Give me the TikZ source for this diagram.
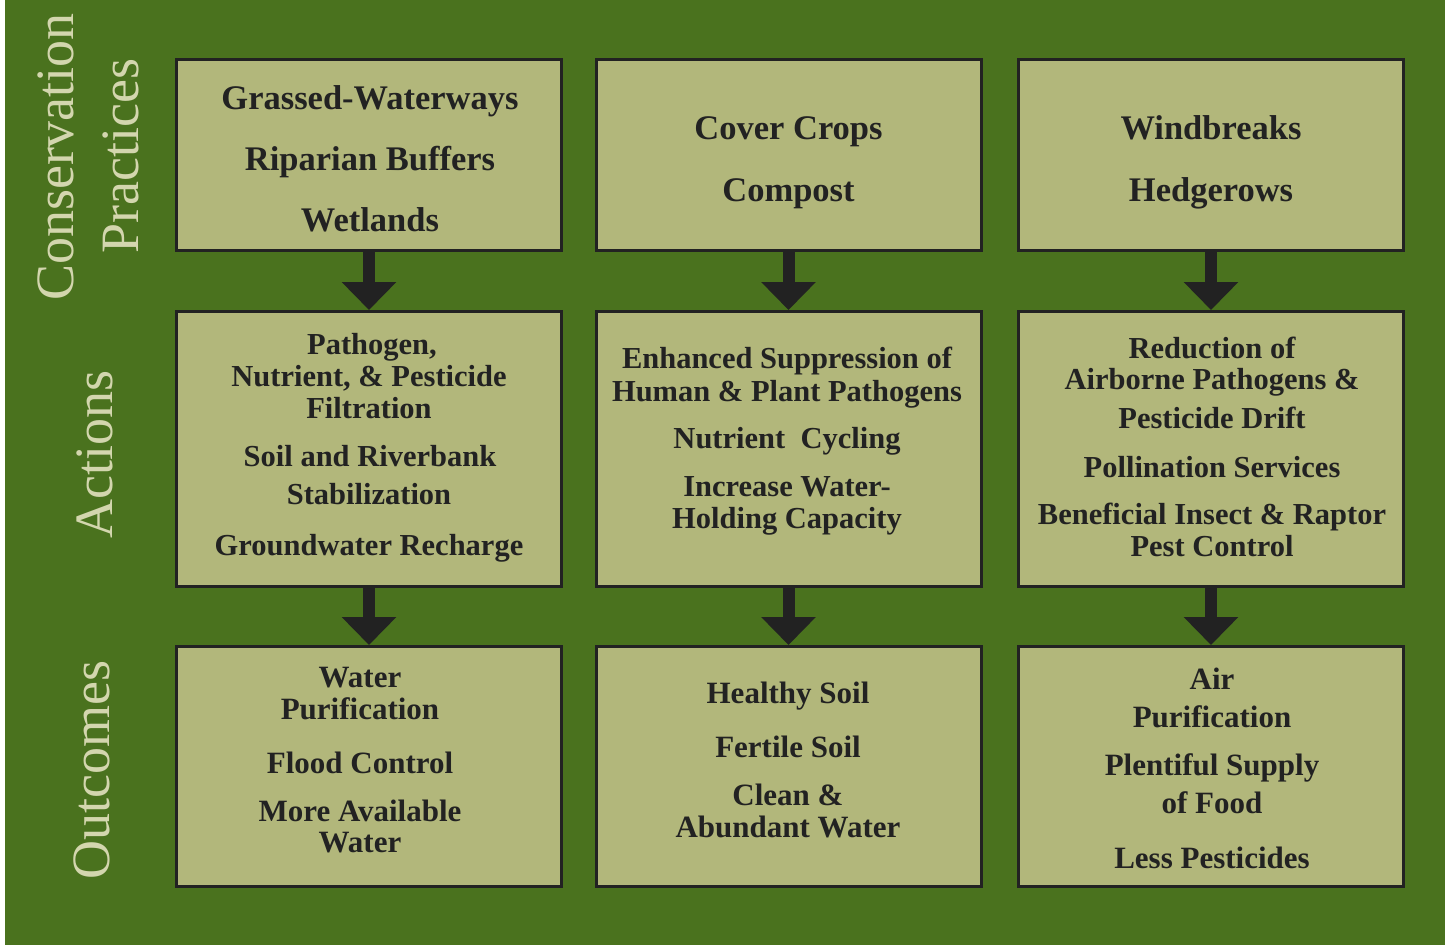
\documentclass[tikz,border=0pt]{standalone}
\usepackage{fontspec}
\setmainfont{Liberation Serif}
\usetikzlibrary{arrows.meta}
\definecolor{bggreen}{HTML}{4A721E}
\definecolor{boxfill}{HTML}{B2B77B}
\definecolor{ink}{HTML}{222222}
\definecolor{sidetext}{HTML}{D3D6AE}
\tikzset{
  panel/.style={draw=ink, line width=3pt, fill=boxfill, inner sep=0pt},
  panelA/.style={panel, minimum width=385pt, minimum height=191pt},
  panelB/.style={panel, minimum width=385pt, minimum height=275pt},
  panelC/.style={panel, minimum width=385pt, minimum height=240pt},
  lineA/.style={anchor=base, inner sep=0pt, text=ink, font=\fontsize{34.5}{40}\selectfont\bfseries},
  lineB/.style={anchor=base, inner sep=0pt, text=ink, font=\fontsize{30.5}{36}\selectfont\bfseries},
  lineC/.style={anchor=base, inner sep=0pt, text=ink, font=\fontsize{31}{37}\selectfont\bfseries},
  sidelabel/.style={anchor=base, rotate=90, inner sep=0pt, text=sidetext, font=\fontsize{54}{60}\selectfont},
  flow/.style={draw=ink, line width=12pt, -{Triangle[width=53pt,length=28pt]}}
}
\begin{document}
\begin{tikzpicture}[x=1pt,y=-1pt]
\useasboundingbox (0,0) rectangle (1445,945);
\fill[bggreen] (0,0) rectangle (1445,945);
\fill[white] (0,0) rectangle (5,945);

% side labels
\node[sidelabel] (lcons) at (73,157) {Conservation};
\node[sidelabel] (lprac) at (138,156) {Practices};
\node[sidelabel] (lact) at (112,454) {Actions};
\node[sidelabel] (lout) at (109,770) {Outcomes};

% boxes
\node[panelA] (b11) at (369,155) {};
\node[panelA] (b12) at (788.5,155) {};
\node[panelA] (b13) at (1211,155) {};
\node[panelB] (b21) at (369,449) {};
\node[panelB] (b22) at (788.5,449) {};
\node[panelB] (b23) at (1211,449) {};
\node[panelC] (b31) at (369,766.5) {};
\node[panelC] (b32) at (788.5,766.5) {};
\node[panelC] (b33) at (1211,766.5) {};

% arrows
\draw[flow] (b11.south) -- (b21.north);
\draw[flow] (b12.south) -- (b22.north);
\draw[flow] (b13.south) -- (b23.north);
\draw[flow] (b21.south) -- (b31.north);
\draw[flow] (b22.south) -- (b32.north);
\draw[flow] (b23.south) -- (b33.north);

% row 1 text
\node[lineA] (t11a) at (370,109) {Grassed-Waterways};
\node[lineA] (t11b) at (370,170) {Riparian Buffers};
\node[lineA] (t11c) at (370,231) {Wetlands};
\node[lineA] (t12a) at (788.5,139) {Cover Crops};
\node[lineA] (t12b) at (788.5,201) {Compost};
\node[lineA] (t13a) at (1211,139) {Windbreaks};
\node[lineA] (t13b) at (1211,201) {Hedgerows};

% row 2 text
\node[lineB] (t21a) at (372,354) {Pathogen,};
\node[lineB] (t21b) at (369,386) {Nutrient, \& Pesticide};
\node[lineB] (t21c) at (369,418) {Filtration};
\node[lineB] (t21d) at (370,466) {Soil and Riverbank};
\node[lineB] (t21e) at (369,504) {Stabilization};
\node[lineB] (t21f) at (369,555) {Groundwater Recharge};
\node[lineB] (t22a) at (787,368) {Enhanced Suppression of};
\node[lineB] (t22b) at (787,401) {Human \& Plant Pathogens};
\node[lineB] (t22c) at (787,448) {Nutrient~~Cycling};
\node[lineB] (t22d) at (787,496) {Increase Water-};
\node[lineB] (t22e) at (787,528) {Holding Capacity};
\node[lineB] (t23a) at (1212,358) {Reduction of};
\node[lineB] (t23b) at (1212,389) {Airborne Pathogens \&};
\node[lineB] (t23c) at (1212,428) {Pesticide Drift};
\node[lineB] (t23d) at (1212,477) {Pollination Services};
\node[lineB] (t23e) at (1212,524) {Beneficial Insect \& Raptor};
\node[lineB] (t23f) at (1212,556) {Pest Control};

% row 3 text
\node[lineC] (t31a) at (360,687) {Water};
\node[lineC] (t31b) at (360,719) {Purification};
\node[lineC] (t31c) at (360,773) {Flood Control};
\node[lineC] (t31d) at (360,821) {More Available};
\node[lineC] (t31e) at (360,852) {Water};
\node[lineC] (t32a) at (788,703) {Healthy Soil};
\node[lineC] (t32b) at (788,757) {Fertile Soil};
\node[lineC] (t32c) at (788,805) {Clean \&};
\node[lineC] (t32d) at (788,837) {Abundant Water};
\node[lineC] (t33a) at (1212,689) {Air};
\node[lineC] (t33b) at (1212,727) {Purification};
\node[lineC] (t33c) at (1212,775) {Plentiful Supply};
\node[lineC] (t33d) at (1212,813) {of Food};
\node[lineC] (t33e) at (1212,868) {Less Pesticides};
\end{tikzpicture}
\end{document}
